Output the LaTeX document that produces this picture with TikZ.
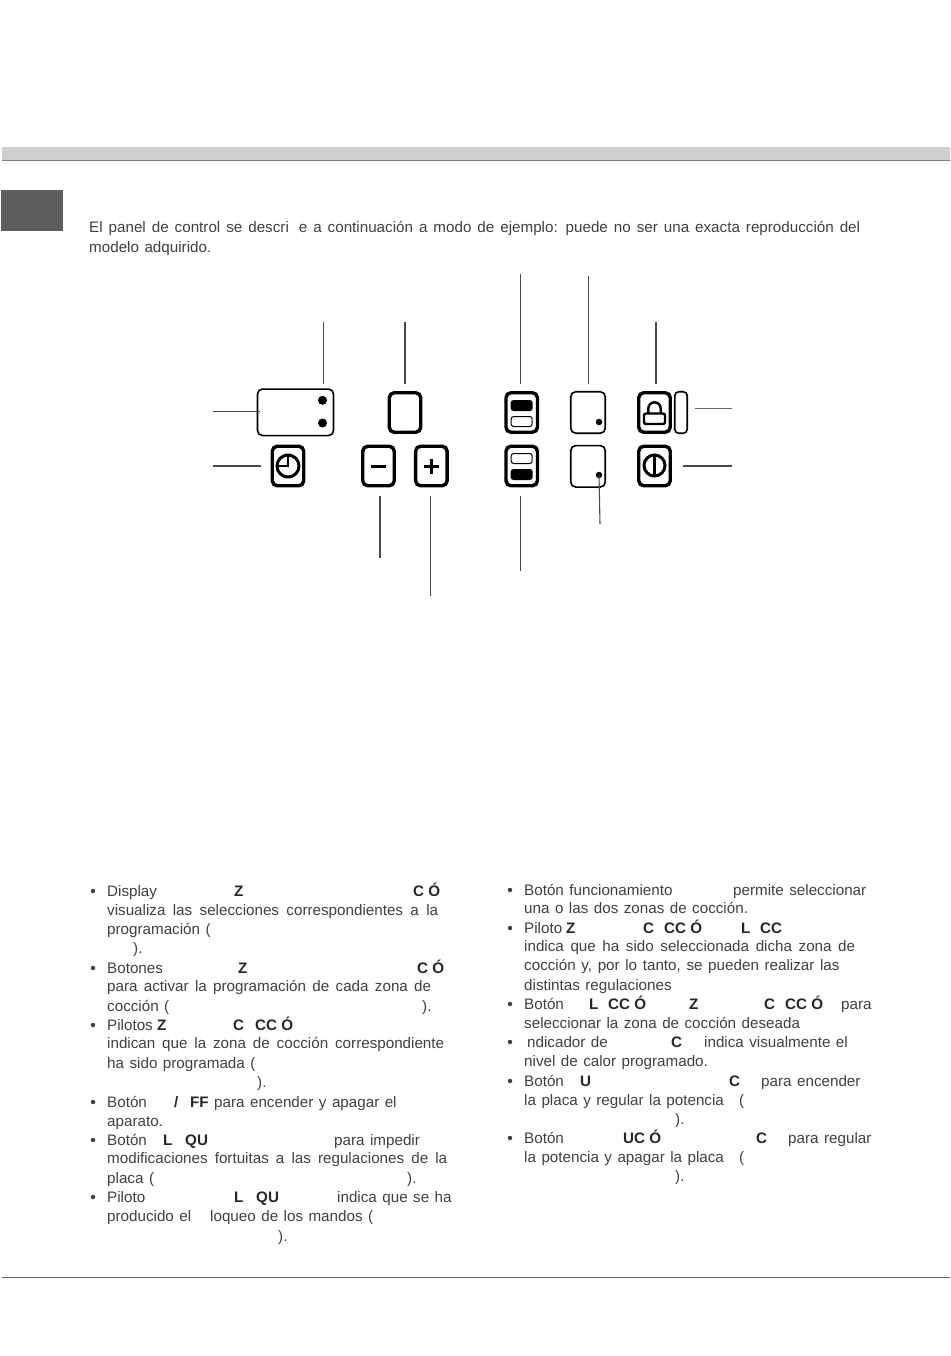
\documentclass[tikz,border=0pt]{standalone}
\usepackage{fontspec}
\setmainfont{Liberation Sans}
\usepackage{xcolor}
\usetikzlibrary{positioning}
\definecolor{inktext}{HTML}{404040}
\definecolor{leadgray}{HTML}{4A4A4A}
\newcommand{\wordgap}{\spaceskip=.36em plus .3em minus .1em\relax}

\begin{document}
\begin{tikzpicture}[
  x=1pt,y=-1pt,
  node distance=18pt,
  plainline/.style={anchor=base west,inner sep=0pt,text=inktext,font=\fontsize{15.2}{18}\selectfont},
  boldline/.style={anchor=base west,inner sep=0pt,text=black!85,font=\fontsize{15.2}{18}\selectfont\bfseries},
  keybtn/.style={draw=black,line width=3.4pt,rounded corners=5pt,minimum width=31.5pt,minimum height=39.5pt,inner sep=0pt},
  thinbox/.style={draw=black,line width=1.6pt,rounded corners=5pt,minimum width=34.5pt,minimum height=41.5pt,inner sep=0pt},
  dotmark/.style={circle,fill=black,inner sep=0pt},
  lampbar/.style={draw=black,line width=1pt,rounded corners=2.5pt,minimum width=21pt,minimum height=10pt,inner sep=0pt},
  iconline/.style={draw=black,line width=3pt},
  leader/.style={draw=leadgray,line width=1.1pt}
]
\useasboundingbox (0,0) rectangle (950,1356);

% page furniture
\fill[black!19] (2,147) rectangle (950,160);
\draw[black!50,line width=1.4pt] (2,160.5) -- (950,160.5);
\fill[black!63] (1,190) rectangle (63,231);
\draw[black!60,line width=1pt] (2,1277.5) -- (950,1277.5);

% display and first column of keys
\node[thinbox,minimum width=76pt,minimum height=46.5pt] (dsp) at (295.5,412.3) {};
\node[dotmark,minimum size=9pt] (dspa) at (322.5,400.3) {};
\node[dotmark,minimum size=9pt] (dspb) at (322.5,423) {};
\node[keybtn] (clk) at (288,466) {};
\node[keybtn] (sel) at (405,412.5) {};
\node[keybtn] (minus) at (378.5,466) {};
\node[keybtn,right=18pt of minus] (plus) {};

% second group of keys
\node[keybtn] (zna) at (521.7,412.5) {};
\node[keybtn] (znb) at (521.7,466) {};
\node[lampbar,fill=black] (zaa) at (521.7,405.5) {};
\node[lampbar,below=5pt of zaa] (zab) {};
\node[lampbar] (zba) at (521.7,458.5) {};
\node[lampbar,fill=black,below=5pt of zba] (zbb) {};
\node[thinbox] (lvla) at (588,412.5) {};
\node[thinbox] (lvlb) at (588,466.3) {};
\node[dotmark,minimum size=6.5pt] (lvlad) at (599,422) {};
\node[dotmark,minimum size=6.5pt] (lvlbd) at (599,475) {};
\node[keybtn] (lock) at (654.5,412.5) {};
\node[keybtn] (pwr) at (654.5,466) {};
\node[thinbox,minimum width=12.5pt,minimum height=41.5pt,rounded corners=4pt] (pill) at (681,412.5) {};

% icons on the keys
\draw[iconline] (288,466) circle (11);
\draw[iconline,line width=2.2pt] (288,455) -- (288,466) -- (277,466);
\draw[iconline] (371,466) -- (386,466);
\draw[iconline] (424,466) -- (439,466);
\draw[iconline] (431.5,458.5) -- (431.5,473.5);
\draw[iconline,line width=2.4pt,rounded corners=2pt] (644,413.5) rectangle (665,424);
\draw[iconline,line width=2.4pt] (648.3,413.5) -- (648.3,408.5) arc[start angle=180,end angle=360,radius=6.2] -- (660.7,413.5);
\draw[iconline] (654.5,465.5) circle (10.5);
\draw[iconline,line width=2.2pt] (654.5,455) -- (654.5,476);

% leader lines
\coordinate (tdsp) at (323.5,322);
\coordinate (tsel) at (405,322);
\coordinate (tzna) at (520.5,274);
\coordinate (tlvl) at (588.3,276);
\coordinate (tlock) at (656,322);
\coordinate (ldsp) at (213,411.5);
\coordinate (lclk) at (213,466);
\coordinate (rpill) at (732,408.5);
\coordinate (rpwr) at (732,466);
\coordinate (bminus) at (380,558);
\coordinate (bplus) at (430.5,596);
\coordinate (bznb) at (520.5,571);
\coordinate (blvl) at (600,524);
\draw[leader,shorten >=4pt] (tdsp) -- (tdsp |- dsp.north);
\draw[leader,shorten >=7pt] (tsel) -- (sel.north);
\draw[leader,shorten >=7pt] (tzna) -- (tzna |- zna.north);
\draw[leader,shorten >=7pt] (tlvl) -- (tlvl |- lvla.north);
\draw[leader,shorten >=7pt] (tlock) -- (tlock |- lock.north);
\draw[leader,shorten >=-3pt] (ldsp) -- (ldsp -| dsp.west);
\draw[leader,shorten >=10pt] (lclk) -- (clk.west);
\draw[leader,shorten >=7pt,black!60] (rpill) -- (rpill -| pill.east);
\draw[leader,shorten >=11pt] (rpwr) -- (pwr.east);
\draw[leader,shorten >=9pt] (bminus) -- (bminus |- minus.south);
\draw[leader,shorten >=9pt] (bplus) -- (bplus |- plus.south);
\draw[leader,shorten >=9pt] (bznb) -- (bznb |- znb.south);
\draw[leader] (blvl) -- (lvlbd.center);

% stretched lines
\foreach \px/\py/\lw/\txt in {
  89/233/771/{El panel de control se descri\hspace{4pt} e a continuación a modo de ejemplo: puede no ser una exacta reproducción del},
  107/915/331/{visualiza las selecciones correspondientes a la},
  107/991/324/{para activar la programación de cada zona de},
  107/1048/337/{indican que la zona de cocción correspondiente},
  107/1163/340/{modificaciones fortuitas a las regulaciones de la},
  524/951/331/{indica que ha sido seleccionada dicha zona de},
  524/970/321/{cocción y, por lo tanto, se pueden realizar las}
}{
  \node[plainline] (ln\px-\py) at (\px,\py) {\makebox[\lw pt][s]{\wordgap\txt}};
}

% plain lines
\foreach \px/\py/\txt in {
  89/252/{modelo adquirido.},
  107/896/{Display}, 107/934/{programación (}, 133/953/{).},
  107/973/{Botones}, 107/1011/{cocción (}, 422/1011/{).},
  107/1030/{Pilotos}, 107/1068/{ha sido programada (}, 257/1087/{).},
  107/1107/{Botón}, 214/1107/{para encender y apagar el}, 107/1126/{aparato.},
  107/1145/{Botón}, 334/1145/{para impedir}, 107/1183/{placa (}, 407/1183/{).},
  107/1202/{Piloto}, 337/1202/{indica que se ha},
  107/1221/{producido el}, 210/1221/{loqueo de los mandos (}, 278/1241/{).},
  524/895/{Botón funcionamiento}, 733/895/{permite seleccionar},
  524/913/{una o las dos zonas de cocción.},
  524/933/{Piloto}, 524/990/{distintas regulaciones},
  524/1009/{Botón}, 841/1009/{para},
  524/1028/{seleccionar la zona de cocción deseada},
  527/1047/{ndicador de}, 704/1047/{indica visualmente el},
  524/1066/{nivel de calor programado.},
  524/1086/{Botón}, 761/1086/{para encender},
  524/1105/{la placa y regular la potencia}, 739/1105/{(}, 675/1124/{).},
  524/1143/{Botón}, 788/1143/{para regular},
  524/1162/{la potencia y apagar la placa}, 739/1162/{(}, 675/1181/{).}
}{
  \node[plainline] (ln\px-\py) at (\px,\py) {\wordgap\txt};
}

% bold fragments
\foreach \px/\py/\txt in {
  234/896/{Z}, 413/896/{C Ó}, 238/973/{Z}, 417/973/{C Ó},
  157/1030/{Z}, 233/1030/{C}, 255/1030/{CC Ó},
  174/1107/{/}, 190/1107/{FF}, 163/1145/{L}, 185/1145/{QU},
  234/1202/{L}, 256/1202/{QU},
  566/933/{Z}, 643/933/{C}, 664/933/{CC Ó}, 741/933/{L}, 760/933/{CC},
  589/1009/{L}, 608/1009/{CC Ó}, 689/1009/{Z}, 764/1009/{C}, 785/1009/{CC Ó},
  671/1047/{C}, 580/1086/{U}, 729/1086/{C}, 623/1143/{UC Ó}, 756/1143/{C}
}{
  \node[boldline] (bd\px-\py) at (\px,\py) {\txt};
}

% bullets
\foreach \px/\py in {93/891,93/968,93/1025,93/1102,93/1140,93/1197,510/890,510/928,510/1004,510/1042,510/1081,510/1138}{
  \node[dotmark,minimum size=4.5pt,fill=inktext] (bu\px-\py) at (\px,\py) {};
}
\end{tikzpicture}
\end{document}
